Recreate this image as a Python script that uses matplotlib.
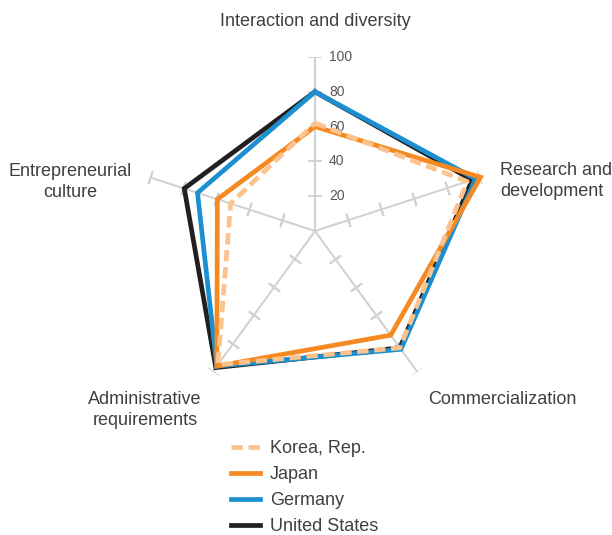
"""Radar chart: innovation ecosystem comparison across four economies."""
import numpy as np
import matplotlib
matplotlib.use('Agg')
import matplotlib.pyplot as plt
from matplotlib.lines import Line2D

plt.rcParams['font.family'] = ['Liberation Sans', 'DejaVu Sans']

# ── Data ─────────────────────────────────────────────────────────────────────
categories = ['Interaction and diversity', 'Research and development',
              'Commercialization', 'Administrative requirements',
              'Entrepreneurial culture']
us      = [80, 95, 83, 97, 79]
germany = [80, 97, 84, 96, 71]
japan   = [60, 100, 74, 96, 59]
korea   = [62, 92, 83, 95, 51]
r_ticks = [20, 40, 60, 80, 100]

W, H = 612, 535
fig = plt.figure(figsize=(W / 100, H / 100), dpi=100)
fig.patch.set_facecolor('white')

# centre at (315, 231) px, radius 174 px for 100
CX, CY, R = 315, 231, 174
ax = fig.add_axes([(CX - R) / W, (H - CY - R) / H, 2 * R / W, 2 * R / H],
                  projection='polar')
ax.set_theta_offset(np.pi / 2)
ax.set_theta_direction(-1)
ax.set_ylim(0, 100)
ax.axis('off')

n = len(categories)
theta = np.arange(n) * 2 * np.pi / n

# ── Spokes with perpendicular tick marks ─────────────────────────────────────
AX_C = '#d2d2d2'
for t in theta:
    ax.plot([t, t], [0, 100], color=AX_C, lw=1.5, zorder=1,
            solid_capstyle='butt')
    disp_deg = 90 - np.degrees(t)
    ax.plot([t] * len(r_ticks), r_ticks, ls='none', color=AX_C,
            marker=(2, 2, disp_deg), markersize=10, mew=1.4, zorder=1)

# radial labels on top spoke
for v in r_ticks:
    ax.annotate(str(v), xy=(0, v), xytext=(10, 0), textcoords='offset points',
                ha='left', va='center', fontsize=10, color='#555555')

# ── Series ───────────────────────────────────────────────────────────────────
def closed(vals):
    return np.append(theta, theta[0]), np.append(vals, vals[0])

series = [
    ('United States', us, '#231f20', '-'),
    ('Germany', germany, '#1b8fcf', '-'),
    ('Japan', japan, '#f58a23', '-'),
    ('Korea, Rep.', korea, '#fcc38f', (0, (2.4, 1.2))),
]
handles = []
for i, (name, vals, col, ls) in enumerate(series):
    tt, rr = closed(vals)
    ax.plot(tt, rr, color=col, lw=3.4, ls=ls, zorder=3 + i,
            solid_joinstyle='miter', clip_on=False)
    handles.append(Line2D([], [], color=col, lw=3.4, ls=ls, label=name))

# ── Category labels ──────────────────────────────────────────────────────────
TXT = '#404040'
FS = 13
def ftext(x, y, s, **kw):
    fig.text(x / W, 1 - y / H, s, fontsize=FS, color=TXT,
             linespacing=1.32, **kw)

ftext(315, 22, 'Interaction and diversity', ha='center', va='center')
ftext(500, 181, 'Research and\ndevelopment', ha='left', va='center')
ftext(502, 400, 'Commercialization', ha='center', va='center')
ftext(145, 410, 'Administrative\nrequirements', ha='center', va='center')
ftext(70, 182, 'Entrepreneurial\nculture', ha='center', va='center')

# ── Legend ───────────────────────────────────────────────────────────────────
fig.legend(handles=handles[::-1], loc='upper left',
           bbox_to_anchor=(231 / W, 1 - 440 / H), frameon=False,
           fontsize=FS, labelcolor=TXT, handlelength=1.6,
           handletextpad=0.55, labelspacing=0.5, borderpad=0,
           borderaxespad=0)

fig.savefig('out.png', dpi=100, facecolor='white')
plt.close(fig)
